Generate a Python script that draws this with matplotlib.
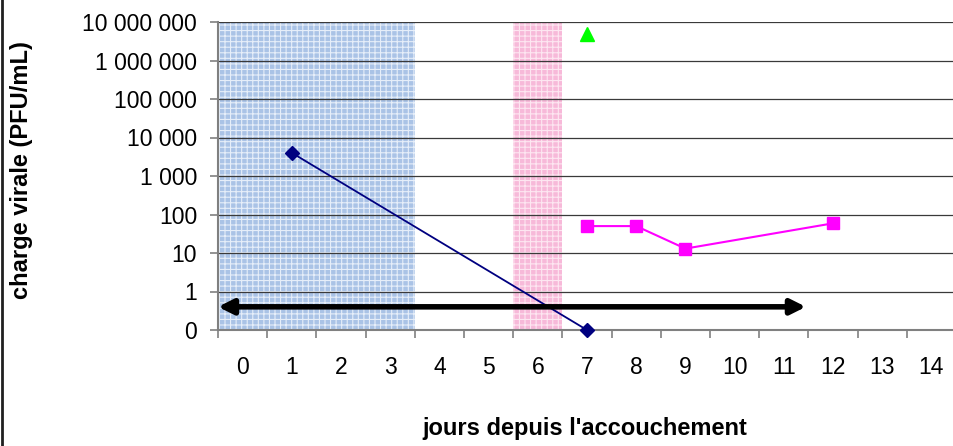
import matplotlib.pyplot as plt
import matplotlib as mpl
from matplotlib.ticker import FixedLocator, FixedFormatter, NullLocator

plt.rcParams['font.family'] = ['Liberation Sans', 'DejaVu Sans']
mpl.rcParams['hatch.linewidth'] = 0.8

# donnees
jours = list(range(15))
jours_labels = [str(j) for j in jours]

bleu_x = [1, 7]
bleu_y = [4000, 0.1]

rose_x = [7, 8, 9, 12]
rose_y = [50, 50, 13, 59]

vert_x = [7]
vert_y = [5000000]

decades = [0.1, 1, 10, 100, 1000, 10000, 100000, 1000000, 10000000]
decade_labels = ['0', '1', '10', '100', '1 000', '10 000', '100 000',
                 '1 000 000', '10 000 000']

fleche_y = 0.4
fleche_x = (-0.5, 11.45)

W, H = 954, 446
fig = plt.figure(figsize=(W / 100, H / 100), dpi=100)
ax = fig.add_axes([218 / W, (H - 330) / H, (956 - 218) / W, (330 - 22) / H])

ax.set_yscale('log')
ax.set_ylim(0.1, 1e7)
ax.set_xlim(-0.5, 14.5)

# zones ombrees
ax.axvspan(-0.5, 3.5, facecolor='#aac3e6', edgecolor='#e6eef9', hatch='+++', lw=0, zorder=0)
ax.axvspan(5.5, 6.5, facecolor='#f7b9d9', edgecolor='#fde6f1', hatch='+++', lw=0, zorder=0)

# grille horizontale
for d in decades[1:]:
    ax.axhline(d, color='#3a3a3a', lw=0.9, zorder=1)

ax.plot(bleu_x, bleu_y, color='#000080', lw=1.3, marker='D', ms=7,
        mfc='#000080', mec='#000080', zorder=3, clip_on=False)
ax.plot(rose_x, rose_y, color='#ff00ff', lw=1.5, marker='s', ms=9,
        mfc='#ff00ff', mec='#ff00ff', zorder=3)
ax.plot(vert_x, vert_y, ls='none', marker='^', ms=10, mfc='#00ff00',
        mec='#00ff00', zorder=3)

ax.annotate('', xy=(fleche_x[1], fleche_y), xytext=(fleche_x[0], fleche_y),
            arrowprops=dict(arrowstyle='<|-|>', color='black', lw=4,
                            mutation_scale=22, shrinkA=0, shrinkB=0),
            zorder=4)

ax.yaxis.set_major_locator(FixedLocator(decades))
ax.yaxis.set_major_formatter(FixedFormatter(decade_labels))
ax.yaxis.set_minor_locator(NullLocator())

ax.set_xticks([j + 0.5 for j in range(-1, 15)])
ax.set_xticklabels([])
ax.set_xticks(jours, minor=True)
ax.set_xticklabels(jours_labels, minor=True)
ax.tick_params(axis='x', which='major', length=6, color='#808080', width=1.2, direction='out')
ax.tick_params(axis='x', which='minor', length=0, pad=19, labelsize=16.5)
ax.tick_params(axis='y', length=6, color='#808080', width=1.2, pad=9, labelsize=16.5)

for s in ['top', 'right']:
    ax.spines[s].set_visible(False)
for s in ['left', 'bottom']:
    ax.spines[s].set_color('#808080')
    ax.spines[s].set_linewidth(1.5)

fig.text(22 / W, 1 - 170 / H, 'charge virale (PFU/mL)', rotation=90,
         ha='center', va='center', fontsize=17, fontweight='bold')
fig.text(585 / W, 1 - 428 / H, "jours depuis l'accouchement",
         ha='center', va='center', fontsize=17, fontweight='bold')

# cadre
fig.add_artist(plt.Line2D([1.5 / W, 1.5 / W], [0, 1], color='#202020', lw=2,
                          transform=fig.transFigure))

fig.savefig('out.png', dpi=100)
